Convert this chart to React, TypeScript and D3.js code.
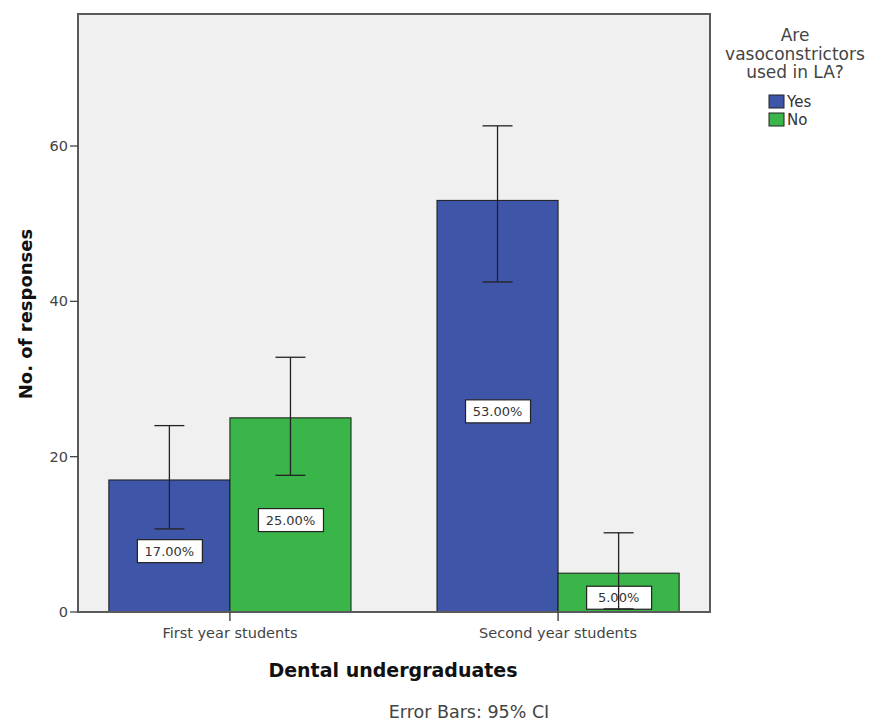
import React from "react";
import * as d3 from "d3";

const categories = ["First year students", "Second year students"];
const series = ["Yes", "No"];
const colors = ["#3f55a8", "#3ab54a"];
const yesValues = [17, 53];
const noValues = [25, 5];
const yesLow = [10.7, 42.5];
const yesHigh = [24, 62.6];
const noLow = [17.6, 0.4];
const noHigh = [32.8, 10.2];
const yTicks = [0, 20, 40, 60];
const legendTitle = ["Are", "vasoconstrictors", "used in LA?"];

const W = 869, H = 722;
const left = 78, right = 710, top = 14, bottom = 612;

export default function App() {
  const x0 = d3.scaleBand<string>().domain(categories).range([left, right]).paddingInner(0.262).paddingOuter(0.094);
  const x1 = d3.scaleBand<string>().domain(series).range([0, x0.bandwidth()]).padding(0);
  const y = d3.scaleLinear().domain([0, 77]).range([bottom, top]);
  const vals = [yesValues, noValues];
  const lows = [yesLow, noLow];
  const highs = [yesHigh, noHigh];
  const font = "'DejaVu Sans', Verdana, sans-serif";
  const boldFont = "'DejaVu Sans', Verdana, sans-serif";
  return (
    <svg width={W} height={H} style={{ position: "absolute", left: 0, top: 0, background: "#fff" }}>
      <rect x={left} y={top} width={right - left} height={bottom - top} fill="#f0f0f0" />
      {categories.map((c, ci) => (
        <g key={c}>
          {series.map((s, si) => {
            const v = vals[si][ci];
            const bx = (x0(c) as number) + (x1(s) as number);
            const bw = x1.bandwidth();
            return (
              <rect key={s} x={bx} y={y(v)} width={bw} height={y(0) - y(v)} fill={colors[si]} stroke="#1a1a1a" strokeWidth={1} />
            );
          })}
        </g>
      ))}
      {categories.map((c, ci) => (
        <g key={c + "l"}>
          {series.map((s, si) => {
            const v = vals[si][ci];
            const cx = (x0(c) as number) + (x1(s) as number) + x1.bandwidth() / 2;
            const cy = y(v / 2 - 0.6);
            const label = v.toFixed(2) + "%";
            return (
              <g key={s}>
                <rect x={cx - 32} y={cy - 11} width={65} height={23} fill="#fff" stroke="#222" strokeWidth={1.2} />
                <text x={cx} y={cy + 5} textAnchor="middle" fontFamily={font} fontSize={13} fill="#333">{label}</text>
              </g>
            );
          })}
        </g>
      ))}
      {categories.map((c, ci) => (
        <g key={c + "e"}>
          {series.map((s, si) => {
            const cx = (x0(c) as number) + (x1(s) as number) + x1.bandwidth() / 2;
            const lo = lows[si][ci], hi = highs[si][ci];
            return (
              <g key={s} stroke="#222" strokeWidth={1.3}>
                <line x1={cx} x2={cx} y1={y(lo)} y2={y(hi)} />
                <line x1={cx - 15} x2={cx + 15} y1={y(hi)} y2={y(hi)} />
                <line x1={cx - 15} x2={cx + 15} y1={y(lo)} y2={y(lo)} />
              </g>
            );
          })}
        </g>
      ))}
      <rect x={left} y={top} width={right - left} height={bottom - top} fill="none" stroke="#5a5a5a" strokeWidth={2} />
      {yTicks.map((t) => (
        <g key={t}>
          <line x1={left - 8} x2={left} y1={y(t)} y2={y(t)} stroke="#444" strokeWidth={1.3} />
          <text x={left - 10} y={y(t) + 5} textAnchor="end" fontFamily={font} fontSize={14.5} fill="#444">{t}</text>
        </g>
      ))}
      {categories.map((c) => {
        const cx = (x0(c) as number) + x0.bandwidth() / 2;
        return (
          <g key={c + "t"}>
            <line x1={cx} x2={cx} y1={bottom} y2={bottom + 9} stroke="#333" strokeWidth={1.3} />
            <text x={cx} y={bottom + 26} textAnchor="middle" fontFamily={font} fontSize={14.5} fill="#444">{c}</text>
          </g>
        );
      })}
      <text transform={`translate(32,314) rotate(-90)`} textAnchor="middle" fontFamily={boldFont} fontWeight="bold" fontSize={18} fill="#111">No. of responses</text>
      <text x={393} y={677} textAnchor="middle" fontFamily={boldFont} fontWeight="bold" fontSize={19} fill="#111">Dental undergraduates</text>
      <text x={469} y={718} textAnchor="middle" fontFamily={font} fontSize={17.5} fill="#444">Error Bars: 95% CI</text>
      {legendTitle.map((t, i) => (
        <text key={t} x={795} y={41 + i * 18.5} textAnchor="middle" fontFamily={font} fontSize={17} fill="#444">{t}</text>
      ))}
      {series.map((s, i) => (
        <g key={s}>
          <rect x={769} y={95 + i * 18} width={15} height={13} fill={colors[i]} stroke="#222" strokeWidth={1} />
          <text x={787} y={107 + i * 18} fontFamily={font} fontSize={15} fill="#333">{s}</text>
        </g>
      ))}
    </svg>
  );
}
